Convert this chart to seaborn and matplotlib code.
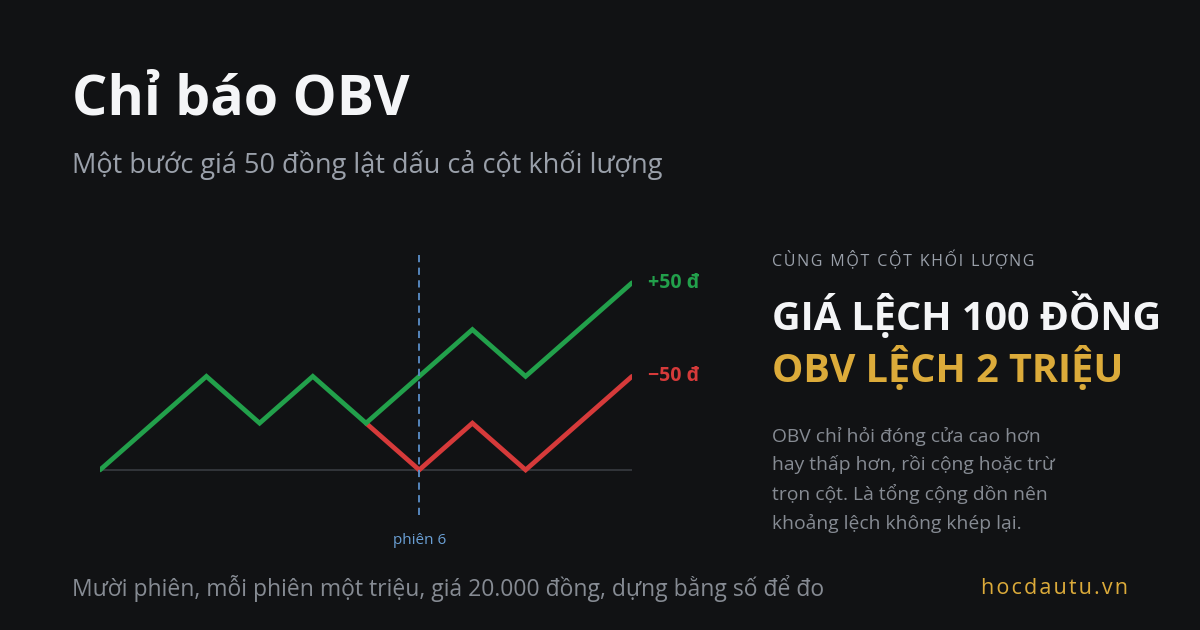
import matplotlib.pyplot as plt
import numpy as np
import pandas as pd
import seaborn as sns

# data: OBV (million shares) per session
sessions = list(range(11))
obv_up = [0, 1, 2, 1, 2, 1, 2, 3, 2, 3, 4]        # close +50 d at session 6
red_sessions = [5, 6, 7, 8, 9, 10]
obv_down = [1, 0, 1, 0, 1, 2]                     # close -50 d at session 6
split_session = 6
end_labels = ["+50 đ", "\u221250 đ"]

BG = "#111214"
GREEN = "#22a04b"
RED = "#d63a3a"
GOLD = "#dcab3a"

sns.set_theme(style="dark")
plt.rcParams['font.family'] = ['Open Sans', 'DejaVu Sans']

fig = plt.figure(figsize=(12, 6.3), dpi=100, facecolor=BG)

# axes placed so session 0..10 spans x 100..632 px and obv 0 sits at y 470 px
ax = fig.add_axes([100 / 1200, (630 - 563.5) / 630, 532 / 1200, 327.5 / 630])
ax.set_facecolor(BG)
ax.set_xlim(0, 10)
ax.set_ylim(-2, 5)

df_up = pd.DataFrame({"session": sessions, "obv": obv_up})
df_down = pd.DataFrame({"session": red_sessions, "obv": obv_down})

ax.plot([0, 10], [0, 0], color="#35383d", lw=1.3, zorder=1)
ax.vlines(split_session, -0.96, 4.6, colors="#5b8fc9", linestyles=(0, (4, 3)), lw=1.3, zorder=4)

sns.lineplot(data=df_down, x="session", y="obv", color=RED, lw=3.4, ax=ax,
             zorder=3, solid_capstyle="round", solid_joinstyle="miter")
sns.lineplot(data=df_up, x="session", y="obv", color=GREEN, lw=3.4, ax=ax,
             zorder=3, solid_capstyle="round", solid_joinstyle="miter")

ax.text(10.3, obv_up[-1], end_labels[0], color=GREEN, fontsize=14, fontweight="bold",
        va="center", ha="left", clip_on=False)
ax.text(10.3, obv_down[-1], end_labels[1], color=RED, fontsize=14, fontweight="bold",
        va="center", ha="left", clip_on=False)
ax.text(split_session, -1.5, "phiên 6", color="#6a9fd4", fontsize=11, ha="center", va="center")

ax.set_xlabel("")
ax.set_ylabel("")
ax.set_xticks([])
ax.set_yticks([])
for s in ax.spines.values():
    s.set_visible(False)
ax.grid(False)

# titles
fig.text(72 / 1200, 1 - 100 / 630, "Chỉ báo OBV", color="#f4f5f7", fontsize=40,
         fontweight="bold", va="center", ha="left")
fig.text(72 / 1200, 1 - 165 / 630, "Một bước giá 50 đồng lật dấu cả cột khối lượng",
         color="#9aa0aa", fontsize=19.5, va="center", ha="left")

# right panel
fig.text(772 / 1200, 1 - 260 / 630, "C Ù N G  M Ộ T  C Ộ T  K H Ố I  L Ư Ợ N G".replace("  ", "\u2002").replace(" ", "\u200a"),
         color="#9aa0aa", fontsize=11.5, va="center", ha="left")
fig.text(772 / 1200, 1 - 316 / 630, "GIÁ LỆCH 100 ĐỒNG", color="#f4f5f7", fontsize=28.5,
         fontweight="bold", va="center", ha="left")
fig.text(772 / 1200, 1 - 368 / 630, "OBV LỆCH 2 TRIỆU", color=GOLD, fontsize=28.5,
         fontweight="bold", va="center", ha="left")
body = ["OBV chỉ hỏi đóng cửa cao hơn",
        "hay thấp hơn, rồi cộng hoặc trừ",
        "trọn cột. Là tổng cộng dồn nên",
        "khoảng lệch không khép lại."]
for i, line in enumerate(body):
    fig.text(772 / 1200, 1 - (436 + 29 * i) / 630, line, color="#868b93", fontsize=13.9,
             va="center", ha="left")

# footer
fig.text(72 / 1200, 1 - 588 / 630,
         "Mười phiên, mỗi phiên một triệu, giá 20.000 đồng, dựng bằng số để đo",
         color="#868b93", fontsize=16.5, va="center", ha="left")
fig.text(1128 / 1200, 1 - 588 / 630, "h o c d a u t u . v n".replace(" ", "\u200a"),
         color=GOLD, fontsize=15.5, va="center", ha="right")

fig.savefig("out.png", dpi=100, facecolor=BG)
